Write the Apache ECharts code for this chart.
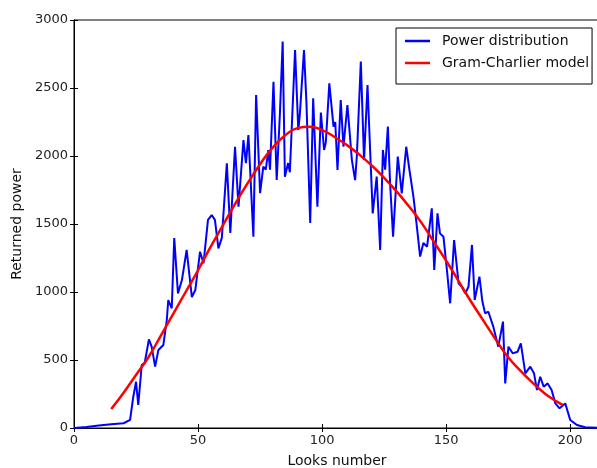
<!DOCTYPE html>
<html>
<head>
<meta charset="utf-8">
<script src="https://cdn.jsdelivr.net/npm/echarts@6/dist/echarts.min.js"></script>
<style>
  html, body { margin: 0; padding: 0; background: #fff; }
  #chart { width: 597px; height: 468px; }
</style>
</head>
<body>
<div id="chart"></div>
<script>
// measured power (looks number vs returned power)
const powerX = [0, 5, 10, 15, 20, 22.6, 23.9, 25, 25.9, 27.3, 28.5, 30.2, 31.3, 32.7, 34, 36, 37.4, 38, 39.4, 40.4,
  41.9, 43.5, 45.4, 47.5, 48.9, 50.8, 52.2, 54, 55.5, 56.8, 58.2, 59.6, 61.6, 63, 64.9, 66.3, 68.3, 69.3, 70.3,
  72.3, 73.4, 75, 76.3, 77.3, 78.3, 79, 80.4, 81.7, 83, 84.1, 85, 86.3, 87, 89.1, 90.4, 91, 92.7, 93.7, 95.2,
  96.4, 98.1, 99.5, 100.8, 101.5, 102.9, 104.6, 105.3, 106.2, 107.5, 108.6, 110.2, 112, 113.3, 114, 115.6,
  116.9, 118.3, 119.4, 120.4, 122, 123.4, 124.5, 125.4, 126.5, 127.4, 128.6, 130.5, 132.1, 133.9, 135.2,
  136.8, 137.9, 139.5, 140.8, 142.3, 144.2, 145.2, 146.5, 147.5, 148.9, 150.3, 151.6, 153.2, 155, 156.3,
  157.7, 159, 160.4, 161.5, 163.4, 164.6, 165.7, 167, 169, 171, 172.9, 173.8, 175.1, 176.8, 178.8, 180.1,
  181.9, 183.9, 185.4, 186.6, 187.9, 189.3, 190.9, 192.5, 194, 195.7, 198, 200, 202.7, 206, 212];
const powerY = [0, 8, 18, 28, 35, 59, 230, 340, 169, 463, 480, 652, 598, 451, 573, 610, 794, 941, 880, 1397,
  990, 1088, 1309, 963, 1015, 1296, 1211, 1530, 1566, 1530, 1321, 1400, 1947, 1434, 2068, 1627, 2117, 1947, 2154,
  1407, 2448, 1727, 1921, 1900, 2044, 1900, 2546, 1823, 2314, 2841, 1848, 1948, 1880, 2779, 2191, 2300, 2779, 2387, 1507,
  2424, 1627, 2320, 2044, 2100, 2534, 2216, 2250, 1897, 2412, 2068, 2375, 1970, 1823, 2000, 2694,
  1970, 2522, 2020, 1578, 1848, 1309, 2044, 1900, 2216, 1800, 1407, 1995, 1725, 2068, 1897,
  1701, 1529, 1260, 1360, 1333, 1615, 1162, 1578, 1431, 1407, 1162, 917, 1382, 1064, 1039,
  990, 1039, 1346, 941, 1113, 930, 843, 855, 745, 598, 782, 328, 598, 549, 561, 622,
  402, 451, 402, 279, 377, 304, 328, 279, 181, 145, 181, 59, 22, 5, 0];

// fitted Gram-Charlier model
const modelX = [15, 20, 25, 30, 35, 40, 45, 50, 55, 60, 65, 70, 75, 80, 85, 90, 95, 100, 105, 110, 115, 120,
  125, 130, 135, 140, 145, 150, 155, 160, 165, 170, 175, 180, 185, 190, 195, 197];
const modelY = [140, 260, 390, 520, 680, 840, 1000, 1160, 1330, 1490, 1650, 1800, 1940, 2060, 2150, 2205, 2215,
  2190, 2140, 2080, 2010, 1930, 1840, 1740, 1630, 1510, 1370, 1230, 1080, 930, 790, 650, 520, 420, 330, 250, 190, 170];

const xTicks = [0, 50, 100, 150, 200];

let ec = echarts.init(document.getElementById('chart'));

const font = 'DejaVu Sans';
const tick = { inside: true, length: 4, lineStyle: { color: '#000' } };

let option = {
  animation: false,
  textStyle: { fontFamily: font },
  grid: { left: 74, top: 20, width: 526, height: 408, show: true, borderColor: '#000', borderWidth: 1,
    outerBoundsMode: 'none', containLabel: false },
  legend: {
    orient: 'vertical',
    left: 396, top: 28,
    backgroundColor: '#fff',
    borderColor: '#000', borderWidth: 1,
    padding: [6, 3, 14, 9],
    icon: 'rect',
    itemWidth: 25, itemHeight: 2.5, itemGap: 8,
    textStyle: { fontSize: 14, color: '#111', fontFamily: font, padding: [0, 0, 0, 7] },
    data: ['Power distribution', 'Gram-Charlier model']
  },
  xAxis: [{
    type: 'value', min: 0, max: 212, interval: 50,
    name: 'Looks number', nameLocation: 'middle', nameGap: 26,
    nameTextStyle: { fontSize: 14, color: '#111' },
    axisLine: { lineStyle: { color: '#000' } },
    axisTick: tick,
    axisLabel: { fontSize: 13, color: '#222', margin: 6, showMaxLabel: false,
      formatter: v => xTicks.indexOf(v) >= 0 ? String(v) : '' },
    splitLine: { show: false }
  }, {
    type: 'value', position: 'top', min: 0, max: 212, interval: 50,
    axisLine: { lineStyle: { color: '#000' } },
    axisTick: tick, axisLabel: { show: false }, splitLine: { show: false }
  }],
  yAxis: [{
    type: 'value', min: 0, max: 3000, interval: 500,
    name: 'Returned power', nameLocation: 'middle', nameGap: 49,
    nameTextStyle: { fontSize: 14, color: '#111' },
    axisLine: { show: true, lineStyle: { color: '#000' } },
    axisTick: { show: true, ...tick },
    axisLabel: { fontSize: 13, color: '#222', margin: 6, formatter: v => String(v) },
    splitLine: { show: false }
  }, {
    type: 'value', position: 'right', min: 0, max: 3000, interval: 500,
    axisLine: { show: true, lineStyle: { color: '#000' } },
    axisTick: { show: true, ...tick }, axisLabel: { show: false }, splitLine: { show: false }
  }],
  series: [{
    name: 'Power distribution', type: 'line',
    data: powerX.map((x, i) => [x, powerY[i]]),
    symbol: 'none', color: '#0000ff',
    lineStyle: { color: '#0000ff', width: 2 }
  }, {
    name: 'Gram-Charlier model', type: 'line', smooth: true,
    data: modelX.map((x, i) => [x, modelY[i]]),
    symbol: 'none', color: '#ff0000',
    lineStyle: { color: '#ff0000', width: 2.5 }
  }]
};

ec.setOption(option);
</script>
</body>
</html>
